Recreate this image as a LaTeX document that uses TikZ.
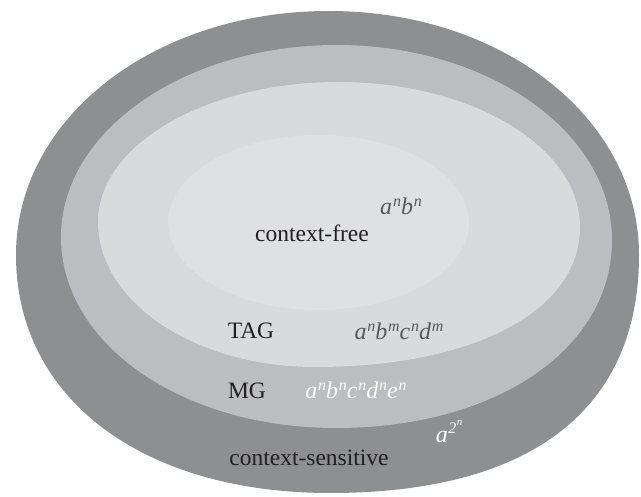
\documentclass[tikz,border=0pt]{standalone}
\usepackage{fontspec}
\setmainfont{Liberation Serif}
\definecolor{ringA}{HTML}{8E8F91}
\definecolor{ringB}{HTML}{BCBDC0}
\definecolor{ringC}{HTML}{D9DADC}
\definecolor{ringD}{HTML}{DFE0E2}
\definecolor{txtdark}{HTML}{231F20}
\definecolor{txtgray}{HTML}{58595B}
\newcommand{\spx}[1]{\kern0.8pt\raisebox{0.36em}{\fontsize{16}{16}\selectfont #1}}
\begin{document}
\begin{tikzpicture}[x=1pt,y=-1pt,
  lbl/.style={font=\fontsize{23.5}{25}\selectfont, text=txtdark, inner sep=0pt, anchor=base},
  mth/.style={font=\fontsize{24}{25}\selectfont\itshape, inner sep=0pt, anchor=base}]
\useasboundingbox (0,0) rectangle (641,497);
% context-sensitive
\fill[ringA] (16,255) .. controls (16,118.4) and (153.7,11) .. (329,11)
  .. controls (502.6,11) and (639,118.4) .. (639,255)
  .. controls (639,409.7) and (530.9,493) .. (330,493)
  .. controls (141.6,493) and (16,397.8) .. cycle;
% MG
\fill[ringB] (61,237) .. controls (61,131) and (184.6,45) .. (337,45)
  .. controls (488.8,45) and (612,132.4) .. (612,240)
  .. controls (612,349) and (496,428) .. (336,428)
  .. controls (182,428) and (61,344) .. cycle;
% TAG
\fill[ringC] (98,222) .. controls (98,144.7) and (206,82) .. (339,82)
  .. controls (472,82) and (580,147) .. (580,227)
  .. controls (580,311) and (474,367) .. (315,367)
  .. controls (195.2,367) and (98,302) .. cycle;
% context-free
\fill[ringD] (318.5,222.5) ellipse [x radius=150.5, y radius=87.5];
\node[lbl] (cf) at (312,242) {context-free};
\node[mth, text=txtgray] (l1) at (401,215) {a\spx{n}b\spx{n}};
\node[lbl] (tag) at (251,339) {TAG};
\node[mth, text=txtgray] (l2) at (399,340) {a\spx{n}b\spx{m}c\spx{n}d\spx{m}};
\node[lbl] (mg) at (247,399) {MG};
\node[mth, text=white] (l3) at (356,399) {a\spx{n}b\spx{n}c\spx{n}d\spx{n}e\spx{n}};
\node[lbl] (cs) at (309,466) {context-sensitive};
\node[mth, text=white] (l4) at (449,443) {a\kern0.5pt\raisebox{0.38em}{\fontsize{16}{16}\selectfont 2\kern0.5pt\raisebox{0.5em}{\fontsize{11}{11}\selectfont n}}};
\end{tikzpicture}
\end{document}
